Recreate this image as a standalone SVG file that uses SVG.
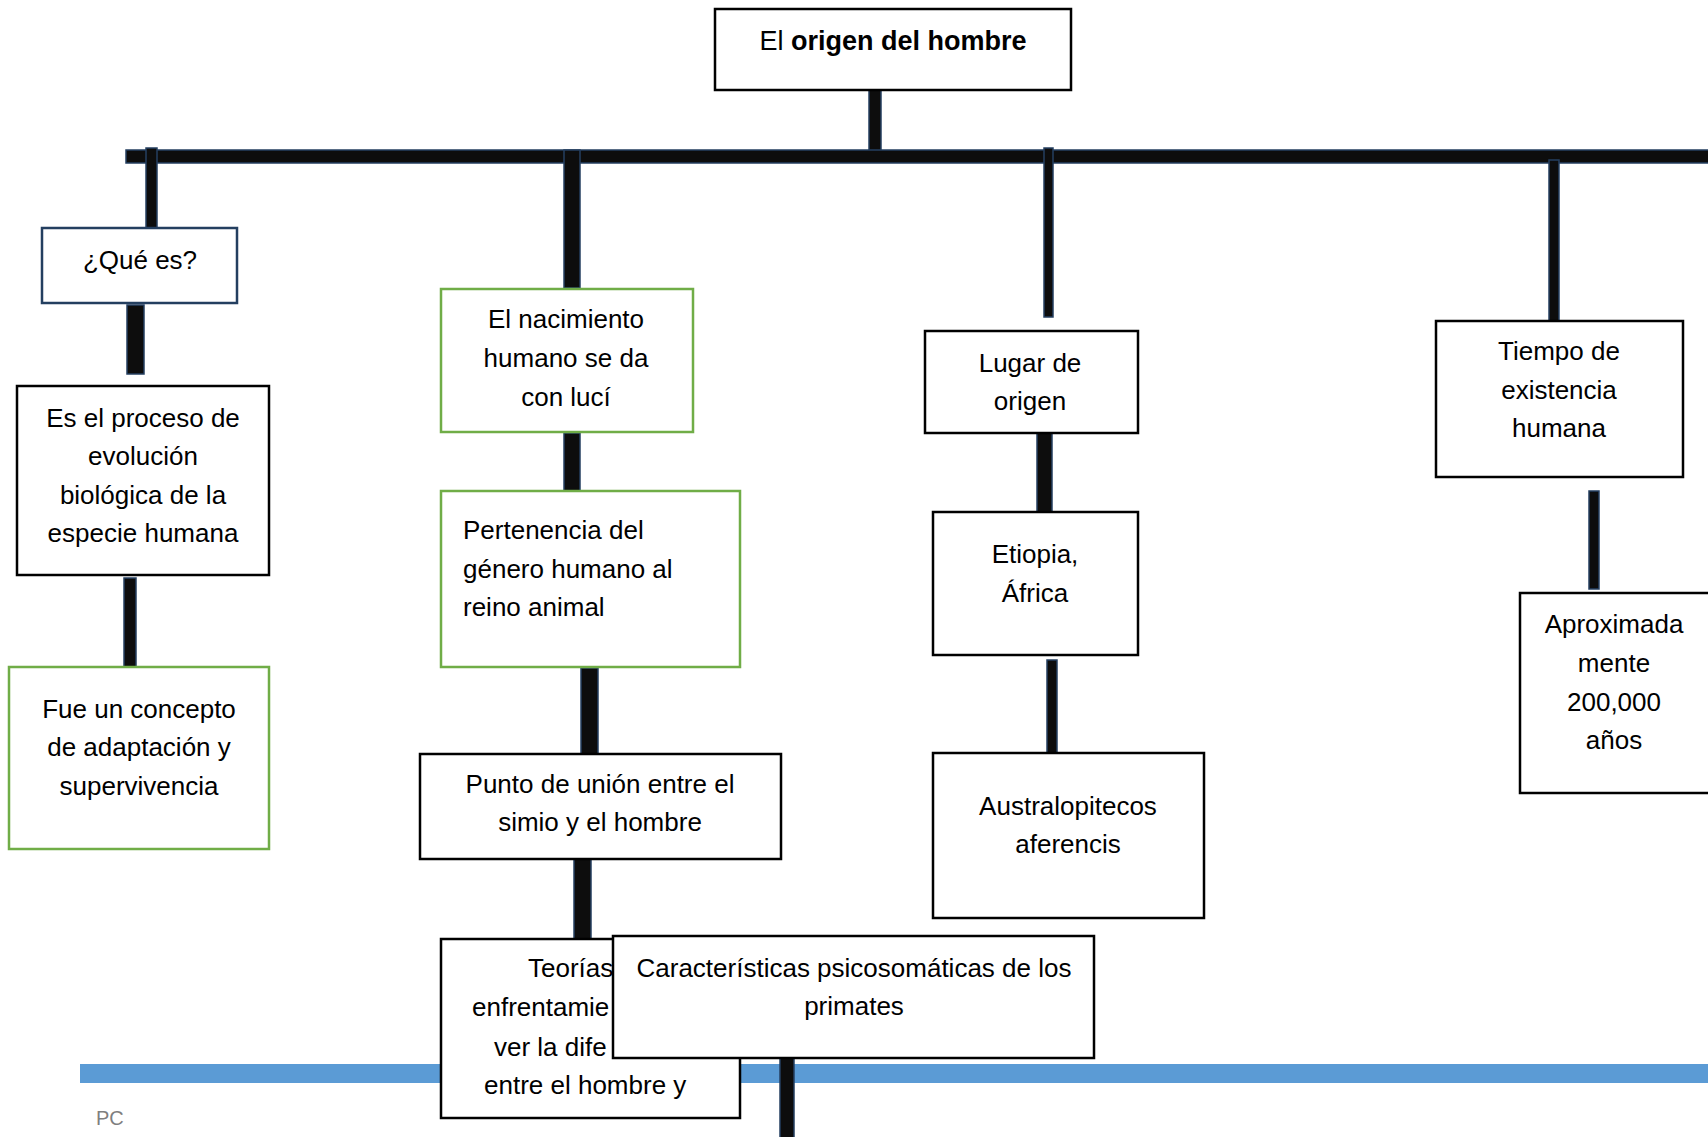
<svg xmlns="http://www.w3.org/2000/svg" width="1708" height="1137" viewBox="0 0 1708 1137">
<style>
  .box{fill:#fff;stroke:#000;stroke-width:2.5}
  .navy{stroke:#243F60}
  .green{stroke:#70AD47}
  .conn{fill:#0D0D0D;stroke:#243F60;stroke-width:1.5}
  text{font-family:"Liberation Sans",Arial,sans-serif;font-size:26px;fill:#000}
  .c{text-anchor:middle}
  .b{font-weight:bold}
</style>
<rect x="0" y="0" width="1708" height="1137" fill="#fff"/>
<rect id="footer-bar" x="80" y="1064" width="1640" height="19" fill="#5B9BD5"/>
<text x="96" y="1125" style="font-size:20px;fill:#7F7F7F">PC</text>
<g id="connectors">
  <rect class="conn" x="869" y="90" width="12" height="62"/>
  <rect class="conn" x="126" y="150" width="1600" height="13"/>
  <rect class="conn" x="146" y="148" width="11" height="80"/>
  <rect class="conn" x="564" y="150" width="16" height="138"/>
  <rect class="conn" x="1044" y="148" width="9" height="169"/>
  <rect class="conn" x="1549" y="160" width="10" height="161"/>
  <rect class="conn" x="127" y="305" width="17" height="69"/>
  <rect class="conn" x="124" y="578" width="12" height="89"/>
  <rect class="conn" x="564" y="433" width="16" height="58"/>
  <rect class="conn" x="581" y="668" width="17" height="86"/>
  <rect class="conn" x="574" y="859" width="17" height="80"/>
  <rect class="conn" x="780" y="1058" width="14" height="85"/>
  <rect class="conn" x="1037" y="433" width="15" height="79"/>
  <rect class="conn" x="1047" y="660" width="10" height="95"/>
  <rect class="conn" x="1589" y="491" width="10" height="98"/>
</g>
<g id="n-title">
  <rect class="box" x="715" y="9" width="356" height="81"/>
  <text class="c" x="893" y="50" style="font-size:27px">El <tspan class="b">origen del hombre</tspan></text>
</g>
<g id="n-que">
  <rect class="box navy" x="42" y="228" width="195" height="75"/>
  <text class="c" x="140" y="269">¿Qué es?</text>
</g>
<g id="n-proceso">
  <rect class="box" x="17" y="386" width="252" height="189"/>
  <text class="c" x="143" y="427">Es el proceso de</text>
  <text class="c" x="143" y="465">evolución</text>
  <text class="c" x="143" y="504">biológica de la</text>
  <text class="c" x="143" y="542">especie humana</text>
</g>
<g id="n-fue">
  <rect class="box green" x="9" y="667" width="260" height="182"/>
  <text class="c" x="139" y="718">Fue un concepto</text>
  <text class="c" x="139" y="756">de adaptación y</text>
  <text class="c" x="139" y="795">supervivencia</text>
</g>
<g id="n-nacimiento">
  <rect class="box green" x="441" y="289" width="252" height="143"/>
  <text class="c" x="566" y="328">El nacimiento</text>
  <text class="c" x="566" y="367">humano se da</text>
  <text class="c" x="566" y="406">con lucí</text>
</g>
<g id="n-pertenencia">
  <rect class="box green" x="441" y="491" width="299" height="176"/>
  <text x="463" y="539">Pertenencia del</text>
  <text x="463" y="578">género humano al</text>
  <text x="463" y="616">reino animal</text>
</g>
<g id="n-punto">
  <rect class="box" x="420" y="754" width="361" height="105"/>
  <text class="c" x="600" y="793">Punto de unión entre el</text>
  <text class="c" x="600" y="831">simio y el hombre</text>
</g>
<g id="n-teorias">
  <rect class="box" x="441" y="939" width="299" height="179"/>
  <text x="528" y="977">Teorías</text>
  <text x="472" y="1016">enfrentamie</text>
  <text x="494" y="1056">ver la dife</text>
  <text x="484" y="1094">entre el hombre y</text>
</g>
<g id="n-caracteristicas">
  <rect class="box" x="613" y="936" width="481" height="122"/>
  <text class="c" x="854" y="977">Características psicosomáticas de los</text>
  <text class="c" x="854" y="1015">primates</text>
</g>
<g id="n-lugar">
  <rect class="box" x="925" y="331" width="213" height="102"/>
  <text class="c" x="1030" y="372">Lugar de</text>
  <text class="c" x="1030" y="410">origen</text>
</g>
<g id="n-etiopia">
  <rect class="box" x="933" y="512" width="205" height="143"/>
  <text class="c" x="1035" y="563">Etiopia,</text>
  <text class="c" x="1035" y="602">África</text>
</g>
<g id="n-australo">
  <rect class="box" x="933" y="753" width="271" height="165"/>
  <text class="c" x="1068" y="815">Australopitecos</text>
  <text class="c" x="1068" y="853">aferencis</text>
</g>
<g id="n-tiempo">
  <rect class="box" x="1436" y="321" width="247" height="156"/>
  <text class="c" x="1559" y="360">Tiempo de</text>
  <text class="c" x="1559" y="399">existencia</text>
  <text class="c" x="1559" y="437">humana</text>
</g>
<g id="n-aprox">
  <rect class="box" x="1520" y="593" width="200" height="200"/>
  <text class="c" x="1614" y="633">Aproximada</text>
  <text class="c" x="1614" y="672">mente</text>
  <text class="c" x="1614" y="711">200,000</text>
  <text class="c" x="1614" y="749">años</text>
</g>
</svg>
